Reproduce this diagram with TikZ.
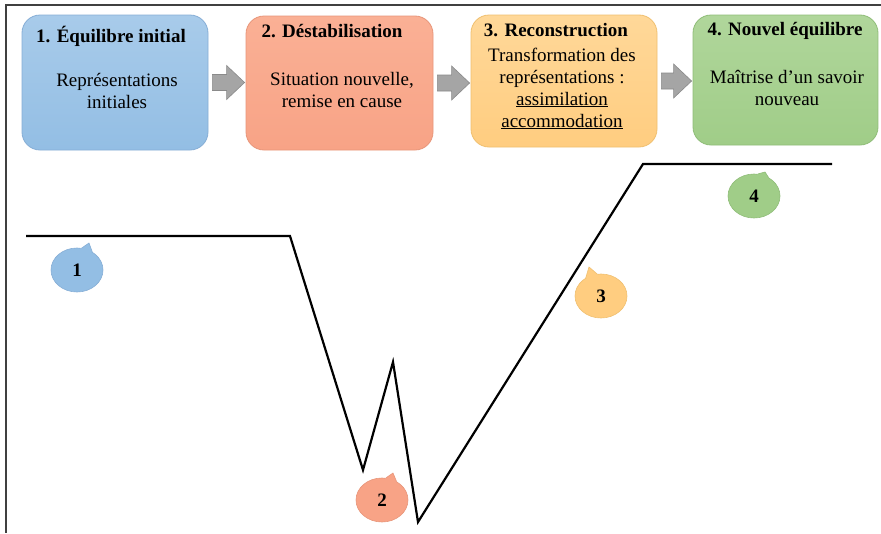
\documentclass[tikz,border=0pt]{standalone}
\usepackage{fontspec}
\setmainfont{Liberation Serif}
\usetikzlibrary{shapes.geometric,calc}
\definecolor{frameC}{HTML}{404040}
\definecolor{bAt}{HTML}{A8CBEA}\definecolor{bAb}{HTML}{93BEE4}\definecolor{bAd}{HTML}{86AED6}
\definecolor{bBt}{HTML}{FAB095}\definecolor{bBb}{HTML}{F8A386}\definecolor{bBd}{HTML}{E8967A}
\definecolor{bCt}{HTML}{FFD899}\definecolor{bCb}{HTML}{FFCD80}\definecolor{bCd}{HTML}{F0C070}
\definecolor{bDt}{HTML}{B0D69B}\definecolor{bDb}{HTML}{A0CD88}\definecolor{bDd}{HTML}{8FBD78}
\definecolor{arrF}{HTML}{A5A5A5}\definecolor{arrD}{HTML}{8A8A8A}
\newcommand\grayarrow[2]{%
  \path[grayarr] let \p1=(#1.east), \p2=(#2.west) in
    (\x1+4pt,\y1+8pt) -- (\x2-19pt,\y1+8pt) -- (\x2-19pt,\y1+17pt) -- (\x2-1pt,\y1)
    -- (\x2-19pt,\y1-17pt) -- (\x2-19pt,\y1-8pt) -- (\x1+4pt,\y1-8pt) -- cycle;}
\newcommand\bubbletip[6]{% node, tip, angle a, angle b, fill, border
  \fill[#5] (#1.#3) -- (#2) -- (#1.#4) -- ($(#1.center)!0.75!(#1.{(#3+#4)/2})$) -- cycle;
  \draw[#6, line width=0.6pt] (#1.#3) -- (#2) -- (#1.#4);}
\begin{document}
\begin{tikzpicture}[x=1pt,y=-1pt,
  stagebox/.style={rounded corners=18pt, line width=0.8pt},
  ttl/.style={font=\fontsize{19}{22}\selectfont\bfseries, anchor=base, inner sep=0pt},
  bodytxt/.style={font=\fontsize{19}{22}\selectfont, anchor=base, align=center, inner sep=0pt},
  bubble/.style={ellipse, minimum width=52pt, minimum height=44pt, inner sep=0pt, line width=0.6pt,
     font=\fontsize{19}{22}\selectfont\bfseries},
  grayarr/.style={fill=arrF, draw=arrD, line width=0.6pt},
  curve/.style={line width=2.2pt, line join=miter, black}]
\useasboundingbox (0,0) rectangle (881,533);
\fill[white] (0,0) rectangle (881,533);
\draw[frameC, line width=1.5pt] (881,5) -- (6,5) -- (6,533);

% stage boxes
\node[stagebox, top color=bAt, bottom color=bAb, draw=bAd, minimum width=186pt, minimum height=135pt] (b1) at (115,82.5) {};
\node[stagebox, top color=bBt, bottom color=bBb, draw=bBd, minimum width=187pt, minimum height=134pt] (b2) at (339.5,83) {};
\node[stagebox, top color=bCt, bottom color=bCb, draw=bCd, minimum width=186pt, minimum height=132pt] (b3) at (564,81) {};
\node[stagebox, top color=bDt, bottom color=bDb, draw=bDd, minimum width=185pt, minimum height=130pt] (b4) at (785.5,80) {};

% texts (multi-line nodes: base = baseline of last line)
\node[ttl] (t1) at (111,42) {1. Équilibre initial};
\node[bodytxt] (d1) at (117,108) {Représentations\\initiales};
\node[ttl] (t2) at (332,37) {2. Déstabilisation};
\node[bodytxt] (d2) at (342,107) {Situation nouvelle,\\remise en cause};
\node[ttl] (t3) at (556,36) {3. Reconstruction};
\node[bodytxt] (d3) at (562,127) {Transformation des\\représentations :\\\underline{assimilation}\\\underline{accommodation}};
\node[ttl] (t4) at (785,35) {4. Nouvel équilibre};
\node[bodytxt] (d4) at (787,105) {Maîtrise d’un savoir\\nouveau};

% arrows
\grayarrow{b1}{b2}
\grayarrow{b2}{b3}
\grayarrow{b3}{b4}

% curve
\draw[curve] (26,236) -- (290,236) -- (363,470) -- (393,362) -- (418,522) -- (643,164) -- (832,164);

% bubbles
\node[bubble, fill=bAb, draw=bAd] (c1) at (77,270) {1};
\coordinate (p1) at (89,243);
\bubbletip{c1}{p1}{50}{78}{bAb}{bAd}
\node[bubble, fill=bBb, draw=bBd] (c2) at (382,500) {2};
\coordinate (p2) at (393,473);
\bubbletip{c2}{p2}{52}{80}{bBb}{bBd}
\node[bubble, fill=bCb, draw=bCd] (c3) at (601,296) {3};
\coordinate (p3) at (589,267);
\bubbletip{c3}{p3}{100}{130}{bCb}{bCd}
\node[bubble, fill=bDb, draw=bDd] (c4) at (754,196) {4};
\coordinate (p4) at (765,172);
\bubbletip{c4}{p4}{52}{80}{bDb}{bDd}
\end{tikzpicture}
\end{document}
